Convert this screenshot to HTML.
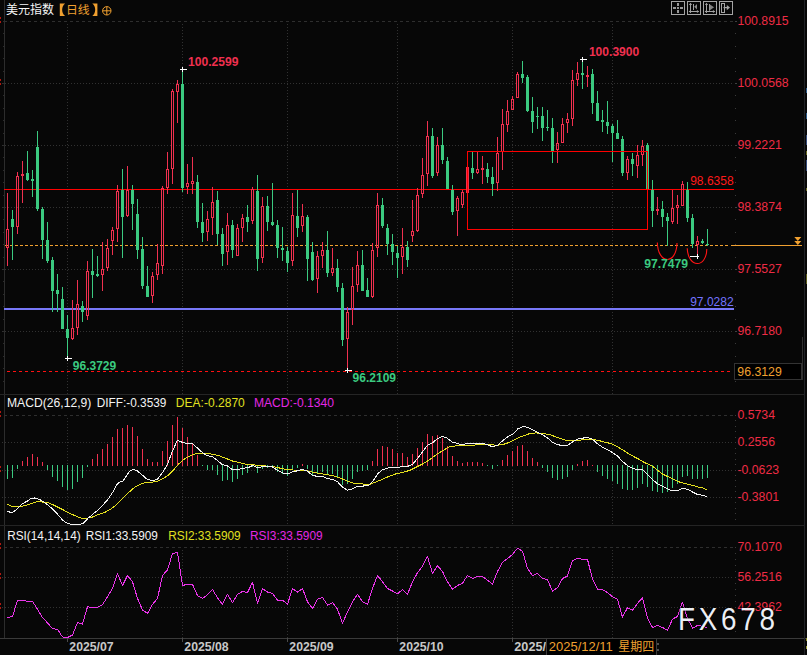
<!DOCTYPE html>
<html><head><meta charset="utf-8"><title>chart</title>
<style>html,body{margin:0;padding:0;background:#070707}body{width:807px;height:655px;overflow:hidden;font-family:"Liberation Sans",sans-serif}svg{display:block}</style>
</head><body>
<svg width="807" height="655" viewBox="0 0 807 655" font-family="'Liberation Sans', sans-serif">
<rect x="0" y="0" width="807" height="655" fill="#070707"/>
<g shape-rendering="crispEdges">
<rect x="4" y="0" width="1" height="638" fill="#2c2c2c"/>
<rect x="0" y="394" width="805" height="1" fill="#252525"/>
<rect x="0" y="525" width="805" height="1" fill="#242424"/>
<rect x="0" y="638" width="807" height="1" fill="#3a3a3a"/>
<rect x="804" y="0" width="1" height="655" fill="#202226"/>
<rect x="802" y="337" width="1" height="43" fill="#303030"/>
<rect x="0" y="17" width="1" height="2" fill="#b01a12"/>
<rect x="0" y="21" width="1" height="2" fill="#b01a12"/>
<rect x="0" y="79" width="1" height="2" fill="#b01a12"/>
<rect x="0" y="83" width="1" height="2" fill="#b01a12"/>
<rect x="0" y="411" width="1" height="2" fill="#b01a12"/>
<rect x="0" y="415" width="1" height="2" fill="#b01a12"/>
<rect x="0" y="466" width="1" height="2" fill="#b01a12"/>
<rect x="0" y="470" width="1" height="2" fill="#b01a12"/>
<rect x="0" y="543" width="1" height="2" fill="#b01a12"/>
<rect x="0" y="547" width="1" height="2" fill="#b01a12"/>
<rect x="0" y="573" width="1" height="2" fill="#b01a12"/>
<rect x="0" y="577" width="1" height="2" fill="#b01a12"/>
<rect x="0" y="603" width="1" height="2" fill="#b01a12"/>
<rect x="0" y="607" width="1" height="2" fill="#b01a12"/>
<rect x="3" y="21" width="1" height="1" fill="#2c2c2c"/>
<rect x="3" y="33" width="1" height="1" fill="#2c2c2c"/>
<rect x="3" y="46" width="1" height="1" fill="#2c2c2c"/>
<rect x="3" y="58" width="1" height="1" fill="#2c2c2c"/>
<rect x="3" y="71" width="1" height="1" fill="#2c2c2c"/>
<rect x="3" y="83" width="1" height="1" fill="#2c2c2c"/>
<rect x="3" y="95" width="1" height="1" fill="#2c2c2c"/>
<rect x="3" y="108" width="1" height="1" fill="#2c2c2c"/>
<rect x="3" y="120" width="1" height="1" fill="#2c2c2c"/>
<rect x="3" y="133" width="1" height="1" fill="#2c2c2c"/>
<rect x="3" y="145" width="1" height="1" fill="#2c2c2c"/>
<rect x="3" y="157" width="1" height="1" fill="#2c2c2c"/>
<rect x="3" y="170" width="1" height="1" fill="#2c2c2c"/>
<rect x="3" y="182" width="1" height="1" fill="#2c2c2c"/>
<rect x="3" y="195" width="1" height="1" fill="#2c2c2c"/>
<rect x="3" y="207" width="1" height="1" fill="#2c2c2c"/>
<rect x="3" y="219" width="1" height="1" fill="#2c2c2c"/>
<rect x="3" y="232" width="1" height="1" fill="#2c2c2c"/>
<rect x="3" y="244" width="1" height="1" fill="#2c2c2c"/>
<rect x="3" y="257" width="1" height="1" fill="#2c2c2c"/>
<rect x="3" y="269" width="1" height="1" fill="#2c2c2c"/>
<rect x="3" y="281" width="1" height="1" fill="#2c2c2c"/>
<rect x="3" y="294" width="1" height="1" fill="#2c2c2c"/>
<rect x="3" y="306" width="1" height="1" fill="#2c2c2c"/>
<rect x="3" y="319" width="1" height="1" fill="#2c2c2c"/>
<rect x="3" y="331" width="1" height="1" fill="#2c2c2c"/>
<rect x="3" y="343" width="1" height="1" fill="#2c2c2c"/>
<rect x="3" y="356" width="1" height="1" fill="#2c2c2c"/>
<rect x="3" y="368" width="1" height="1" fill="#2c2c2c"/>
<rect x="3" y="381" width="1" height="1" fill="#2c2c2c"/>
</g>
<g shape-rendering="crispEdges" stroke-width="1" fill="none">
<path d="M4 21.5H734" stroke="#2e2e2e" stroke-dasharray="3 3"/>
<path d="M2 83.5H734" stroke="#313131" stroke-dasharray="1 2"/>
<path d="M2 145.5H734" stroke="#313131" stroke-dasharray="1 2"/>
<path d="M2 207.5H734" stroke="#313131" stroke-dasharray="1 2"/>
<path d="M2 269.5H734" stroke="#313131" stroke-dasharray="1 2"/>
<path d="M2 331.5H734" stroke="#313131" stroke-dasharray="1 2"/>
<path d="M4 415.5H734" stroke="#2e2e2e" stroke-dasharray="3 3"/>
<path d="M2 442.5H734" stroke="#313131" stroke-dasharray="1 2"/>
<path d="M2 470.5H734" stroke="#313131" stroke-dasharray="1 2"/>
<path d="M2 497.5H734" stroke="#313131" stroke-dasharray="1 2"/>
<path d="M4 547.5H734" stroke="#2e2e2e" stroke-dasharray="3 3"/>
<path d="M2 577.5H734" stroke="#313131" stroke-dasharray="1 2"/>
<path d="M2 607.5H734" stroke="#313131" stroke-dasharray="1 2"/>
<path d="M67.5 24V394M67.5 418V525M67.5 550V638" stroke="#313131" stroke-dasharray="1 2"/>
<rect x="67" y="638" width="1" height="4" fill="#4a4a4a"/>
<path d="M182.5 24V394M182.5 418V525M182.5 550V638" stroke="#313131" stroke-dasharray="1 2"/>
<rect x="182" y="638" width="1" height="4" fill="#4a4a4a"/>
<path d="M287.5 24V394M287.5 418V525M287.5 550V638" stroke="#313131" stroke-dasharray="1 2"/>
<rect x="287" y="638" width="1" height="4" fill="#4a4a4a"/>
<path d="M397.5 24V394M397.5 418V525M397.5 550V638" stroke="#313131" stroke-dasharray="1 2"/>
<rect x="397" y="638" width="1" height="4" fill="#4a4a4a"/>
<path d="M512.5 24V394M512.5 418V525M512.5 550V638" stroke="#313131" stroke-dasharray="1 2"/>
<rect x="512" y="638" width="1" height="4" fill="#4a4a4a"/>
<path d="M612.5 24V394M612.5 418V525M612.5 550V638" stroke="#313131" stroke-dasharray="1 2"/>
<rect x="612" y="638" width="1" height="4" fill="#4a4a4a"/>
<rect x="735" y="21" width="1" height="1" fill="#3a3a3a"/>
<rect x="735" y="33" width="1" height="1" fill="#3a3a3a"/>
<rect x="735" y="46" width="1" height="1" fill="#3a3a3a"/>
<rect x="735" y="58" width="1" height="1" fill="#3a3a3a"/>
<rect x="735" y="71" width="1" height="1" fill="#3a3a3a"/>
<rect x="735" y="83" width="1" height="1" fill="#3a3a3a"/>
<rect x="735" y="95" width="1" height="1" fill="#3a3a3a"/>
<rect x="735" y="108" width="1" height="1" fill="#3a3a3a"/>
<rect x="735" y="120" width="1" height="1" fill="#3a3a3a"/>
<rect x="735" y="133" width="1" height="1" fill="#3a3a3a"/>
<rect x="735" y="145" width="1" height="1" fill="#3a3a3a"/>
<rect x="735" y="157" width="1" height="1" fill="#3a3a3a"/>
<rect x="735" y="170" width="1" height="1" fill="#3a3a3a"/>
<rect x="735" y="182" width="1" height="1" fill="#3a3a3a"/>
<rect x="735" y="195" width="1" height="1" fill="#3a3a3a"/>
<rect x="735" y="207" width="1" height="1" fill="#3a3a3a"/>
<rect x="735" y="219" width="1" height="1" fill="#3a3a3a"/>
<rect x="735" y="232" width="1" height="1" fill="#3a3a3a"/>
<rect x="735" y="244" width="1" height="1" fill="#3a3a3a"/>
<rect x="735" y="257" width="1" height="1" fill="#3a3a3a"/>
<rect x="735" y="269" width="1" height="1" fill="#3a3a3a"/>
<rect x="735" y="281" width="1" height="1" fill="#3a3a3a"/>
<rect x="735" y="294" width="1" height="1" fill="#3a3a3a"/>
<rect x="735" y="306" width="1" height="1" fill="#3a3a3a"/>
<rect x="735" y="319" width="1" height="1" fill="#3a3a3a"/>
<rect x="735" y="331" width="1" height="1" fill="#3a3a3a"/>
<rect x="735" y="343" width="1" height="1" fill="#3a3a3a"/>
<rect x="735" y="356" width="1" height="1" fill="#3a3a3a"/>
<rect x="735" y="368" width="1" height="1" fill="#3a3a3a"/>
<rect x="735" y="381" width="1" height="1" fill="#3a3a3a"/>
<rect x="735" y="415" width="1" height="1" fill="#3a3a3a"/>
<rect x="735" y="420" width="1" height="1" fill="#3a3a3a"/>
<rect x="735" y="426" width="1" height="1" fill="#3a3a3a"/>
<rect x="735" y="431" width="1" height="1" fill="#3a3a3a"/>
<rect x="735" y="437" width="1" height="1" fill="#3a3a3a"/>
<rect x="735" y="442" width="1" height="1" fill="#3a3a3a"/>
<rect x="735" y="448" width="1" height="1" fill="#3a3a3a"/>
<rect x="735" y="453" width="1" height="1" fill="#3a3a3a"/>
<rect x="735" y="459" width="1" height="1" fill="#3a3a3a"/>
<rect x="735" y="464" width="1" height="1" fill="#3a3a3a"/>
<rect x="735" y="470" width="1" height="1" fill="#3a3a3a"/>
<rect x="735" y="475" width="1" height="1" fill="#3a3a3a"/>
<rect x="735" y="480" width="1" height="1" fill="#3a3a3a"/>
<rect x="735" y="486" width="1" height="1" fill="#3a3a3a"/>
<rect x="735" y="491" width="1" height="1" fill="#3a3a3a"/>
<rect x="735" y="497" width="1" height="1" fill="#3a3a3a"/>
<rect x="735" y="502" width="1" height="1" fill="#3a3a3a"/>
<rect x="735" y="508" width="1" height="1" fill="#3a3a3a"/>
<rect x="735" y="513" width="1" height="1" fill="#3a3a3a"/>
<rect x="735" y="519" width="1" height="1" fill="#3a3a3a"/>
<rect x="735" y="547" width="1" height="1" fill="#3a3a3a"/>
<rect x="735" y="553" width="1" height="1" fill="#3a3a3a"/>
<rect x="735" y="559" width="1" height="1" fill="#3a3a3a"/>
<rect x="735" y="565" width="1" height="1" fill="#3a3a3a"/>
<rect x="735" y="571" width="1" height="1" fill="#3a3a3a"/>
<rect x="735" y="577" width="1" height="1" fill="#3a3a3a"/>
<rect x="735" y="583" width="1" height="1" fill="#3a3a3a"/>
<rect x="735" y="589" width="1" height="1" fill="#3a3a3a"/>
<rect x="735" y="595" width="1" height="1" fill="#3a3a3a"/>
<rect x="735" y="601" width="1" height="1" fill="#3a3a3a"/>
<rect x="735" y="607" width="1" height="1" fill="#3a3a3a"/>
<rect x="735" y="613" width="1" height="1" fill="#3a3a3a"/>
<rect x="735" y="619" width="1" height="1" fill="#3a3a3a"/>
<rect x="735" y="625" width="1" height="1" fill="#3a3a3a"/>
<rect x="735" y="631" width="1" height="1" fill="#3a3a3a"/>
<rect x="735" y="21" width="2" height="1" fill="#404040"/>
<rect x="735" y="83" width="2" height="1" fill="#404040"/>
<rect x="735" y="145" width="2" height="1" fill="#404040"/>
<rect x="735" y="207" width="2" height="1" fill="#404040"/>
<rect x="735" y="269" width="2" height="1" fill="#404040"/>
<rect x="735" y="331" width="2" height="1" fill="#404040"/>
</g>
<g shape-rendering="crispEdges">
<rect x="4" y="189" width="730" height="1" fill="#ff0000"/>
<rect x="4" y="308" width="730" height="2" fill="#7878f8"/>
<path d="M5 245.5H729" stroke="#f0a030" stroke-width="1" stroke-dasharray="3 2" fill="none"/>
<rect x="731" y="245" width="71" height="1" fill="#f0a030"/>
<path d="M7 371.5H733" stroke="#ff1010" stroke-width="1" stroke-dasharray="3 3" fill="none"/>
</g>
<g shape-rendering="crispEdges">
<rect x="7" y="193" width="1" height="36" fill="#f0304f"/>
<rect x="7" y="248" width="1" height="18" fill="#f0304f"/>
<path d="M6 229h3v19h-3zM7 230v17h1v-17z" fill="#f0304f" fill-rule="evenodd"/>
<rect x="12" y="210" width="1" height="9" fill="#3bca80"/>
<rect x="12" y="227" width="1" height="33" fill="#3bca80"/>
<rect x="11" y="219" width="3" height="8" fill="#3bca80"/>
<rect x="17" y="172" width="1" height="4" fill="#f0304f"/>
<rect x="17" y="227" width="1" height="7" fill="#f0304f"/>
<path d="M16 176h3v51h-3zM17 177v49h1v-49z" fill="#f0304f" fill-rule="evenodd"/>
<rect x="22" y="161" width="1" height="13" fill="#f0304f"/>
<rect x="22" y="176" width="1" height="27" fill="#f0304f"/>
<rect x="21" y="174" width="3" height="2" fill="#f0304f"/>
<rect x="27" y="151" width="1" height="22" fill="#3bca80"/>
<rect x="27" y="180" width="1" height="1" fill="#3bca80"/>
<rect x="26" y="173" width="3" height="7" fill="#3bca80"/>
<rect x="32" y="170" width="1" height="9" fill="#3bca80"/>
<rect x="32" y="181" width="1" height="16" fill="#3bca80"/>
<rect x="31" y="179" width="3" height="2" fill="#3bca80"/>
<rect x="37" y="131" width="1" height="16" fill="#3bca80"/>
<rect x="37" y="209" width="1" height="2" fill="#3bca80"/>
<rect x="36" y="147" width="3" height="62" fill="#3bca80"/>
<rect x="42" y="207" width="1" height="2" fill="#3bca80"/>
<rect x="42" y="240" width="1" height="19" fill="#3bca80"/>
<rect x="41" y="209" width="3" height="31" fill="#3bca80"/>
<rect x="47" y="222" width="1" height="18" fill="#3bca80"/>
<rect x="47" y="261" width="1" height="2" fill="#3bca80"/>
<rect x="46" y="240" width="3" height="21" fill="#3bca80"/>
<rect x="52" y="257" width="1" height="3" fill="#3bca80"/>
<rect x="52" y="291" width="1" height="21" fill="#3bca80"/>
<rect x="51" y="260" width="3" height="31" fill="#3bca80"/>
<rect x="57" y="274" width="1" height="16" fill="#3bca80"/>
<rect x="57" y="294" width="1" height="18" fill="#3bca80"/>
<rect x="56" y="290" width="3" height="4" fill="#3bca80"/>
<rect x="62" y="287" width="1" height="12" fill="#3bca80"/>
<rect x="61" y="299" width="3" height="30" fill="#3bca80"/>
<rect x="67" y="315" width="1" height="14" fill="#3bca80"/>
<rect x="67" y="338" width="1" height="20" fill="#3bca80"/>
<rect x="66" y="329" width="3" height="9" fill="#3bca80"/>
<rect x="72" y="300" width="1" height="28" fill="#f0304f"/>
<rect x="72" y="339" width="1" height="1" fill="#f0304f"/>
<path d="M71 328h3v11h-3zM72 329v9h1v-9z" fill="#f0304f" fill-rule="evenodd"/>
<rect x="77" y="280" width="1" height="24" fill="#f0304f"/>
<rect x="77" y="328" width="1" height="7" fill="#f0304f"/>
<path d="M76 304h3v24h-3zM77 305v22h1v-22z" fill="#f0304f" fill-rule="evenodd"/>
<rect x="82" y="301" width="1" height="5" fill="#3bca80"/>
<rect x="82" y="312" width="1" height="10" fill="#3bca80"/>
<rect x="81" y="306" width="3" height="6" fill="#3bca80"/>
<rect x="87" y="261" width="1" height="10" fill="#f0304f"/>
<rect x="87" y="316" width="1" height="4" fill="#f0304f"/>
<path d="M86 271h3v45h-3zM87 272v43h1v-43z" fill="#f0304f" fill-rule="evenodd"/>
<rect x="92" y="249" width="1" height="22" fill="#3bca80"/>
<rect x="92" y="275" width="1" height="23" fill="#3bca80"/>
<rect x="91" y="271" width="3" height="4" fill="#3bca80"/>
<rect x="97" y="256" width="1" height="18" fill="#3bca80"/>
<rect x="97" y="276" width="1" height="1" fill="#3bca80"/>
<rect x="96" y="274" width="3" height="2" fill="#3bca80"/>
<rect x="102" y="242" width="1" height="27" fill="#f0304f"/>
<rect x="102" y="275" width="1" height="16" fill="#f0304f"/>
<path d="M101 269h3v6h-3zM102 270v4h1v-4z" fill="#f0304f" fill-rule="evenodd"/>
<rect x="107" y="239" width="1" height="9" fill="#f0304f"/>
<rect x="107" y="268" width="1" height="3" fill="#f0304f"/>
<path d="M106 248h3v20h-3zM107 249v18h1v-18z" fill="#f0304f" fill-rule="evenodd"/>
<rect x="112" y="227" width="1" height="3" fill="#f0304f"/>
<rect x="112" y="241" width="1" height="14" fill="#f0304f"/>
<path d="M111 230h3v11h-3zM112 231v9h1v-9z" fill="#f0304f" fill-rule="evenodd"/>
<rect x="117" y="185" width="1" height="6" fill="#f0304f"/>
<rect x="117" y="229" width="1" height="13" fill="#f0304f"/>
<path d="M116 191h3v38h-3zM117 192v36h1v-36z" fill="#f0304f" fill-rule="evenodd"/>
<rect x="122" y="169" width="1" height="21" fill="#3bca80"/>
<rect x="122" y="217" width="1" height="41" fill="#3bca80"/>
<rect x="121" y="190" width="3" height="27" fill="#3bca80"/>
<rect x="127" y="166" width="1" height="24" fill="#f0304f"/>
<rect x="127" y="216" width="1" height="1" fill="#f0304f"/>
<path d="M126 190h3v26h-3zM127 191v24h1v-24z" fill="#f0304f" fill-rule="evenodd"/>
<rect x="132" y="185" width="1" height="5" fill="#3bca80"/>
<rect x="132" y="204" width="1" height="26" fill="#3bca80"/>
<rect x="131" y="190" width="3" height="14" fill="#3bca80"/>
<rect x="137" y="199" width="1" height="15" fill="#3bca80"/>
<rect x="137" y="250" width="1" height="9" fill="#3bca80"/>
<rect x="136" y="214" width="3" height="36" fill="#3bca80"/>
<rect x="142" y="237" width="1" height="12" fill="#3bca80"/>
<rect x="142" y="286" width="1" height="3" fill="#3bca80"/>
<rect x="141" y="249" width="3" height="37" fill="#3bca80"/>
<rect x="147" y="266" width="1" height="20" fill="#3bca80"/>
<rect x="146" y="286" width="3" height="11" fill="#3bca80"/>
<rect x="152" y="272" width="1" height="4" fill="#f0304f"/>
<rect x="152" y="296" width="1" height="7" fill="#f0304f"/>
<path d="M151 276h3v20h-3zM152 277v18h1v-18z" fill="#f0304f" fill-rule="evenodd"/>
<rect x="157" y="244" width="1" height="19" fill="#f0304f"/>
<rect x="157" y="275" width="1" height="5" fill="#f0304f"/>
<path d="M156 263h3v12h-3zM157 264v10h1v-10z" fill="#f0304f" fill-rule="evenodd"/>
<rect x="162" y="186" width="1" height="2" fill="#f0304f"/>
<rect x="162" y="266" width="1" height="8" fill="#f0304f"/>
<path d="M161 188h3v78h-3zM162 189v76h1v-76z" fill="#f0304f" fill-rule="evenodd"/>
<rect x="167" y="152" width="1" height="17" fill="#f0304f"/>
<rect x="167" y="188" width="1" height="6" fill="#f0304f"/>
<path d="M166 169h3v19h-3zM167 170v17h1v-17z" fill="#f0304f" fill-rule="evenodd"/>
<rect x="172" y="89" width="1" height="2" fill="#f0304f"/>
<rect x="172" y="169" width="1" height="15" fill="#f0304f"/>
<path d="M171 91h3v78h-3zM172 92v76h1v-76z" fill="#f0304f" fill-rule="evenodd"/>
<rect x="177" y="80" width="1" height="4" fill="#f0304f"/>
<rect x="177" y="92" width="1" height="31" fill="#f0304f"/>
<path d="M176 84h3v8h-3zM177 85v6h1v-6z" fill="#f0304f" fill-rule="evenodd"/>
<rect x="182" y="70" width="1" height="14" fill="#3bca80"/>
<rect x="182" y="188" width="1" height="4" fill="#3bca80"/>
<rect x="181" y="84" width="3" height="104" fill="#3bca80"/>
<rect x="187" y="164" width="1" height="19" fill="#f0304f"/>
<rect x="187" y="187" width="1" height="7" fill="#f0304f"/>
<path d="M186 183h3v4h-3zM187 184v2h1v-2z" fill="#f0304f" fill-rule="evenodd"/>
<rect x="192" y="157" width="1" height="24" fill="#f0304f"/>
<rect x="192" y="184" width="1" height="10" fill="#f0304f"/>
<path d="M191 181h3v3h-3zM192 182v1h1v-1z" fill="#f0304f" fill-rule="evenodd"/>
<rect x="197" y="175" width="1" height="7" fill="#3bca80"/>
<rect x="197" y="222" width="1" height="6" fill="#3bca80"/>
<rect x="196" y="182" width="3" height="40" fill="#3bca80"/>
<rect x="202" y="203" width="1" height="19" fill="#3bca80"/>
<rect x="202" y="233" width="1" height="9" fill="#3bca80"/>
<rect x="201" y="222" width="3" height="11" fill="#3bca80"/>
<rect x="207" y="211" width="1" height="8" fill="#f0304f"/>
<rect x="207" y="232" width="1" height="9" fill="#f0304f"/>
<path d="M206 219h3v13h-3zM207 220v11h1v-11z" fill="#f0304f" fill-rule="evenodd"/>
<rect x="212" y="187" width="1" height="15" fill="#f0304f"/>
<rect x="212" y="218" width="1" height="17" fill="#f0304f"/>
<path d="M211 202h3v16h-3zM212 203v14h1v-14z" fill="#f0304f" fill-rule="evenodd"/>
<rect x="217" y="191" width="1" height="9" fill="#3bca80"/>
<rect x="217" y="234" width="1" height="11" fill="#3bca80"/>
<rect x="216" y="200" width="3" height="34" fill="#3bca80"/>
<rect x="222" y="228" width="1" height="6" fill="#3bca80"/>
<rect x="222" y="254" width="1" height="12" fill="#3bca80"/>
<rect x="221" y="234" width="3" height="20" fill="#3bca80"/>
<rect x="227" y="213" width="1" height="12" fill="#f0304f"/>
<rect x="227" y="252" width="1" height="13" fill="#f0304f"/>
<path d="M226 225h3v27h-3zM227 226v25h1v-25z" fill="#f0304f" fill-rule="evenodd"/>
<rect x="232" y="220" width="1" height="5" fill="#3bca80"/>
<rect x="232" y="250" width="1" height="8" fill="#3bca80"/>
<rect x="231" y="225" width="3" height="25" fill="#3bca80"/>
<rect x="237" y="224" width="1" height="4" fill="#f0304f"/>
<path d="M236 228h3v28h-3zM237 229v26h1v-26z" fill="#f0304f" fill-rule="evenodd"/>
<rect x="242" y="214" width="1" height="4" fill="#f0304f"/>
<rect x="242" y="228" width="1" height="14" fill="#f0304f"/>
<path d="M241 218h3v10h-3zM242 219v8h1v-8z" fill="#f0304f" fill-rule="evenodd"/>
<rect x="247" y="205" width="1" height="12" fill="#3bca80"/>
<rect x="247" y="222" width="1" height="10" fill="#3bca80"/>
<rect x="246" y="217" width="3" height="5" fill="#3bca80"/>
<rect x="252" y="187" width="1" height="2" fill="#f0304f"/>
<rect x="252" y="221" width="1" height="3" fill="#f0304f"/>
<path d="M251 189h3v32h-3zM252 190v30h1v-30z" fill="#f0304f" fill-rule="evenodd"/>
<rect x="257" y="175" width="1" height="16" fill="#3bca80"/>
<rect x="257" y="259" width="1" height="12" fill="#3bca80"/>
<rect x="256" y="191" width="3" height="68" fill="#3bca80"/>
<rect x="262" y="197" width="1" height="9" fill="#f0304f"/>
<rect x="262" y="258" width="1" height="5" fill="#f0304f"/>
<path d="M261 206h3v52h-3zM262 207v50h1v-50z" fill="#f0304f" fill-rule="evenodd"/>
<rect x="267" y="196" width="1" height="10" fill="#3bca80"/>
<rect x="267" y="222" width="1" height="9" fill="#3bca80"/>
<rect x="266" y="206" width="3" height="16" fill="#3bca80"/>
<rect x="272" y="183" width="1" height="39" fill="#3bca80"/>
<rect x="272" y="225" width="1" height="1" fill="#3bca80"/>
<rect x="271" y="222" width="3" height="3" fill="#3bca80"/>
<rect x="277" y="220" width="1" height="5" fill="#3bca80"/>
<rect x="277" y="248" width="1" height="10" fill="#3bca80"/>
<rect x="276" y="225" width="3" height="23" fill="#3bca80"/>
<rect x="282" y="227" width="1" height="21" fill="#3bca80"/>
<rect x="282" y="250" width="1" height="11" fill="#3bca80"/>
<rect x="281" y="248" width="3" height="2" fill="#3bca80"/>
<rect x="287" y="247" width="1" height="4" fill="#3bca80"/>
<rect x="287" y="263" width="1" height="9" fill="#3bca80"/>
<rect x="286" y="251" width="3" height="12" fill="#3bca80"/>
<rect x="292" y="193" width="1" height="22" fill="#f0304f"/>
<rect x="292" y="261" width="1" height="5" fill="#f0304f"/>
<path d="M291 215h3v46h-3zM292 216v44h1v-44z" fill="#f0304f" fill-rule="evenodd"/>
<rect x="297" y="190" width="1" height="26" fill="#3bca80"/>
<rect x="297" y="228" width="1" height="9" fill="#3bca80"/>
<rect x="296" y="216" width="3" height="12" fill="#3bca80"/>
<rect x="302" y="204" width="1" height="12" fill="#f0304f"/>
<rect x="302" y="226" width="1" height="6" fill="#f0304f"/>
<path d="M301 216h3v10h-3zM302 217v8h1v-8z" fill="#f0304f" fill-rule="evenodd"/>
<rect x="307" y="215" width="1" height="2" fill="#3bca80"/>
<rect x="307" y="259" width="1" height="22" fill="#3bca80"/>
<rect x="306" y="217" width="3" height="42" fill="#3bca80"/>
<rect x="312" y="242" width="1" height="10" fill="#3bca80"/>
<rect x="312" y="280" width="1" height="1" fill="#3bca80"/>
<rect x="311" y="252" width="3" height="28" fill="#3bca80"/>
<rect x="317" y="251" width="1" height="5" fill="#f0304f"/>
<rect x="317" y="279" width="1" height="14" fill="#f0304f"/>
<path d="M316 256h3v23h-3zM317 257v21h1v-21z" fill="#f0304f" fill-rule="evenodd"/>
<rect x="322" y="242" width="1" height="8" fill="#f0304f"/>
<rect x="322" y="256" width="1" height="12" fill="#f0304f"/>
<path d="M321 250h3v6h-3zM322 251v4h1v-4z" fill="#f0304f" fill-rule="evenodd"/>
<rect x="327" y="231" width="1" height="19" fill="#3bca80"/>
<rect x="327" y="273" width="1" height="4" fill="#3bca80"/>
<rect x="326" y="250" width="3" height="23" fill="#3bca80"/>
<rect x="332" y="248" width="1" height="20" fill="#f0304f"/>
<rect x="332" y="273" width="1" height="3" fill="#f0304f"/>
<path d="M331 268h3v5h-3zM332 269v3h1v-3z" fill="#f0304f" fill-rule="evenodd"/>
<rect x="337" y="259" width="1" height="9" fill="#3bca80"/>
<rect x="337" y="287" width="1" height="5" fill="#3bca80"/>
<rect x="336" y="268" width="3" height="19" fill="#3bca80"/>
<rect x="342" y="283" width="1" height="5" fill="#3bca80"/>
<rect x="342" y="340" width="1" height="6" fill="#3bca80"/>
<rect x="341" y="288" width="3" height="52" fill="#3bca80"/>
<rect x="347" y="307" width="1" height="5" fill="#f0304f"/>
<rect x="347" y="339" width="1" height="31" fill="#f0304f"/>
<path d="M346 312h3v27h-3zM347 313v25h1v-25z" fill="#f0304f" fill-rule="evenodd"/>
<rect x="352" y="267" width="1" height="19" fill="#f0304f"/>
<rect x="352" y="310" width="1" height="15" fill="#f0304f"/>
<path d="M351 286h3v24h-3zM352 287v22h1v-22z" fill="#f0304f" fill-rule="evenodd"/>
<rect x="357" y="251" width="1" height="14" fill="#f0304f"/>
<rect x="357" y="285" width="1" height="7" fill="#f0304f"/>
<path d="M356 265h3v20h-3zM357 266v18h1v-18z" fill="#f0304f" fill-rule="evenodd"/>
<rect x="362" y="250" width="1" height="15" fill="#3bca80"/>
<rect x="361" y="265" width="3" height="26" fill="#3bca80"/>
<rect x="367" y="278" width="1" height="12" fill="#3bca80"/>
<rect x="366" y="290" width="3" height="7" fill="#3bca80"/>
<rect x="372" y="243" width="1" height="7" fill="#f0304f"/>
<rect x="372" y="297" width="1" height="1" fill="#f0304f"/>
<path d="M371 250h3v47h-3zM372 251v45h1v-45z" fill="#f0304f" fill-rule="evenodd"/>
<rect x="377" y="193" width="1" height="12" fill="#f0304f"/>
<rect x="377" y="248" width="1" height="9" fill="#f0304f"/>
<path d="M376 205h3v43h-3zM377 206v41h1v-41z" fill="#f0304f" fill-rule="evenodd"/>
<rect x="382" y="198" width="1" height="7" fill="#3bca80"/>
<rect x="382" y="226" width="1" height="2" fill="#3bca80"/>
<rect x="381" y="205" width="3" height="21" fill="#3bca80"/>
<rect x="387" y="224" width="1" height="4" fill="#3bca80"/>
<rect x="387" y="244" width="1" height="11" fill="#3bca80"/>
<rect x="386" y="228" width="3" height="16" fill="#3bca80"/>
<rect x="392" y="234" width="1" height="10" fill="#3bca80"/>
<rect x="392" y="252" width="1" height="13" fill="#3bca80"/>
<rect x="391" y="244" width="3" height="8" fill="#3bca80"/>
<rect x="397" y="246" width="1" height="7" fill="#3bca80"/>
<rect x="397" y="258" width="1" height="20" fill="#3bca80"/>
<rect x="396" y="253" width="3" height="5" fill="#3bca80"/>
<rect x="402" y="228" width="1" height="19" fill="#f0304f"/>
<rect x="402" y="257" width="1" height="17" fill="#f0304f"/>
<path d="M401 247h3v10h-3zM402 248v8h1v-8z" fill="#f0304f" fill-rule="evenodd"/>
<rect x="407" y="241" width="1" height="6" fill="#3bca80"/>
<rect x="407" y="260" width="1" height="7" fill="#3bca80"/>
<rect x="406" y="247" width="3" height="13" fill="#3bca80"/>
<rect x="412" y="200" width="1" height="31" fill="#f0304f"/>
<rect x="412" y="236" width="1" height="6" fill="#f0304f"/>
<path d="M411 231h3v5h-3zM412 232v3h1v-3z" fill="#f0304f" fill-rule="evenodd"/>
<rect x="417" y="188" width="1" height="7" fill="#f0304f"/>
<rect x="417" y="231" width="1" height="1" fill="#f0304f"/>
<path d="M416 195h3v36h-3zM417 196v34h1v-34z" fill="#f0304f" fill-rule="evenodd"/>
<rect x="422" y="158" width="1" height="17" fill="#f0304f"/>
<rect x="422" y="194" width="1" height="4" fill="#f0304f"/>
<path d="M421 175h3v19h-3zM422 176v17h1v-17z" fill="#f0304f" fill-rule="evenodd"/>
<rect x="427" y="121" width="1" height="15" fill="#f0304f"/>
<rect x="427" y="174" width="1" height="12" fill="#f0304f"/>
<path d="M426 136h3v38h-3zM427 137v36h1v-36z" fill="#f0304f" fill-rule="evenodd"/>
<rect x="432" y="128" width="1" height="8" fill="#3bca80"/>
<rect x="432" y="176" width="1" height="2" fill="#3bca80"/>
<rect x="431" y="136" width="3" height="40" fill="#3bca80"/>
<rect x="437" y="137" width="1" height="8" fill="#f0304f"/>
<rect x="437" y="173" width="1" height="3" fill="#f0304f"/>
<path d="M436 145h3v28h-3zM437 146v26h1v-26z" fill="#f0304f" fill-rule="evenodd"/>
<rect x="442" y="128" width="1" height="17" fill="#3bca80"/>
<rect x="442" y="160" width="1" height="4" fill="#3bca80"/>
<rect x="441" y="145" width="3" height="15" fill="#3bca80"/>
<rect x="447" y="157" width="1" height="4" fill="#3bca80"/>
<rect x="446" y="161" width="3" height="28" fill="#3bca80"/>
<rect x="452" y="185" width="1" height="5" fill="#3bca80"/>
<rect x="452" y="212" width="1" height="3" fill="#3bca80"/>
<rect x="451" y="190" width="3" height="22" fill="#3bca80"/>
<rect x="457" y="196" width="1" height="2" fill="#f0304f"/>
<rect x="457" y="211" width="1" height="25" fill="#f0304f"/>
<path d="M456 198h3v13h-3zM457 199v11h1v-11z" fill="#f0304f" fill-rule="evenodd"/>
<rect x="462" y="190" width="1" height="2" fill="#f0304f"/>
<rect x="462" y="205" width="1" height="3" fill="#f0304f"/>
<path d="M461 192h3v13h-3zM462 193v11h1v-11z" fill="#f0304f" fill-rule="evenodd"/>
<rect x="466" y="167" width="3" height="26" fill="#f0304f"/>
<rect x="472" y="152" width="1" height="16" fill="#3bca80"/>
<rect x="472" y="173" width="1" height="6" fill="#3bca80"/>
<rect x="471" y="168" width="3" height="5" fill="#3bca80"/>
<rect x="477" y="152" width="1" height="17" fill="#f0304f"/>
<rect x="477" y="173" width="1" height="1" fill="#f0304f"/>
<path d="M476 169h3v4h-3zM477 170v2h1v-2z" fill="#f0304f" fill-rule="evenodd"/>
<rect x="482" y="156" width="1" height="12" fill="#f0304f"/>
<rect x="482" y="170" width="1" height="14" fill="#f0304f"/>
<rect x="481" y="168" width="3" height="2" fill="#f0304f"/>
<rect x="487" y="163" width="1" height="6" fill="#3bca80"/>
<rect x="487" y="177" width="1" height="6" fill="#3bca80"/>
<rect x="486" y="169" width="3" height="8" fill="#3bca80"/>
<rect x="492" y="167" width="1" height="10" fill="#3bca80"/>
<rect x="492" y="184" width="1" height="12" fill="#3bca80"/>
<rect x="491" y="177" width="3" height="7" fill="#3bca80"/>
<rect x="497" y="137" width="1" height="16" fill="#f0304f"/>
<rect x="497" y="183" width="1" height="8" fill="#f0304f"/>
<path d="M496 153h3v30h-3zM497 154v28h1v-28z" fill="#f0304f" fill-rule="evenodd"/>
<rect x="502" y="109" width="1" height="15" fill="#f0304f"/>
<rect x="502" y="152" width="1" height="18" fill="#f0304f"/>
<path d="M501 124h3v28h-3zM502 125v26h1v-26z" fill="#f0304f" fill-rule="evenodd"/>
<rect x="507" y="100" width="1" height="11" fill="#f0304f"/>
<rect x="507" y="125" width="1" height="7" fill="#f0304f"/>
<path d="M506 111h3v14h-3zM507 112v12h1v-12z" fill="#f0304f" fill-rule="evenodd"/>
<rect x="512" y="96" width="1" height="3" fill="#f0304f"/>
<path d="M511 99h3v11h-3zM512 100v9h1v-9z" fill="#f0304f" fill-rule="evenodd"/>
<rect x="517" y="72" width="1" height="2" fill="#f0304f"/>
<path d="M516 74h3v24h-3zM517 75v22h1v-22z" fill="#f0304f" fill-rule="evenodd"/>
<rect x="522" y="61" width="1" height="13" fill="#3bca80"/>
<rect x="522" y="78" width="1" height="5" fill="#3bca80"/>
<rect x="521" y="74" width="3" height="4" fill="#3bca80"/>
<rect x="527" y="75" width="1" height="2" fill="#3bca80"/>
<rect x="527" y="111" width="1" height="1" fill="#3bca80"/>
<rect x="526" y="77" width="3" height="34" fill="#3bca80"/>
<rect x="532" y="97" width="1" height="14" fill="#3bca80"/>
<rect x="532" y="122" width="1" height="11" fill="#3bca80"/>
<rect x="531" y="111" width="3" height="11" fill="#3bca80"/>
<rect x="537" y="107" width="1" height="9" fill="#3bca80"/>
<rect x="537" y="117" width="1" height="12" fill="#3bca80"/>
<rect x="536" y="116" width="3" height="1" fill="#3bca80"/>
<rect x="542" y="107" width="1" height="9" fill="#3bca80"/>
<rect x="542" y="128" width="1" height="13" fill="#3bca80"/>
<rect x="541" y="116" width="3" height="12" fill="#3bca80"/>
<rect x="547" y="110" width="1" height="17" fill="#3bca80"/>
<rect x="547" y="128" width="1" height="3" fill="#3bca80"/>
<rect x="546" y="127" width="3" height="1" fill="#3bca80"/>
<rect x="552" y="118" width="1" height="10" fill="#3bca80"/>
<rect x="552" y="151" width="1" height="12" fill="#3bca80"/>
<rect x="551" y="128" width="3" height="23" fill="#3bca80"/>
<rect x="557" y="132" width="1" height="11" fill="#f0304f"/>
<rect x="557" y="150" width="1" height="13" fill="#f0304f"/>
<path d="M556 143h3v7h-3zM557 144v5h1v-5z" fill="#f0304f" fill-rule="evenodd"/>
<rect x="562" y="118" width="1" height="6" fill="#f0304f"/>
<path d="M561 124h3v19h-3zM562 125v17h1v-17z" fill="#f0304f" fill-rule="evenodd"/>
<rect x="567" y="113" width="1" height="6" fill="#f0304f"/>
<rect x="567" y="123" width="1" height="10" fill="#f0304f"/>
<path d="M566 119h3v4h-3zM567 120v2h1v-2z" fill="#f0304f" fill-rule="evenodd"/>
<rect x="572" y="70" width="1" height="10" fill="#f0304f"/>
<rect x="572" y="119" width="1" height="7" fill="#f0304f"/>
<path d="M571 80h3v39h-3zM572 81v37h1v-37z" fill="#f0304f" fill-rule="evenodd"/>
<rect x="577" y="62" width="1" height="11" fill="#f0304f"/>
<rect x="577" y="80" width="1" height="6" fill="#f0304f"/>
<path d="M576 73h3v7h-3zM577 74v5h1v-5z" fill="#f0304f" fill-rule="evenodd"/>
<rect x="582" y="60" width="1" height="13" fill="#3bca80"/>
<rect x="582" y="75" width="1" height="14" fill="#3bca80"/>
<rect x="581" y="73" width="3" height="2" fill="#3bca80"/>
<rect x="587" y="66" width="1" height="9" fill="#f0304f"/>
<rect x="587" y="77" width="1" height="10" fill="#f0304f"/>
<rect x="586" y="75" width="3" height="2" fill="#f0304f"/>
<rect x="592" y="69" width="1" height="5" fill="#3bca80"/>
<rect x="592" y="103" width="1" height="11" fill="#3bca80"/>
<rect x="591" y="74" width="3" height="29" fill="#3bca80"/>
<rect x="597" y="91" width="1" height="12" fill="#3bca80"/>
<rect x="596" y="103" width="3" height="18" fill="#3bca80"/>
<rect x="602" y="110" width="1" height="10" fill="#3bca80"/>
<rect x="602" y="122" width="1" height="10" fill="#3bca80"/>
<rect x="601" y="120" width="3" height="2" fill="#3bca80"/>
<rect x="607" y="101" width="1" height="21" fill="#3bca80"/>
<rect x="607" y="126" width="1" height="8" fill="#3bca80"/>
<rect x="606" y="122" width="3" height="4" fill="#3bca80"/>
<rect x="612" y="124" width="1" height="2" fill="#3bca80"/>
<rect x="612" y="133" width="1" height="29" fill="#3bca80"/>
<rect x="611" y="126" width="3" height="7" fill="#3bca80"/>
<rect x="617" y="120" width="1" height="13" fill="#3bca80"/>
<rect x="616" y="133" width="3" height="6" fill="#3bca80"/>
<rect x="622" y="136" width="1" height="3" fill="#3bca80"/>
<rect x="622" y="173" width="1" height="3" fill="#3bca80"/>
<rect x="621" y="139" width="3" height="34" fill="#3bca80"/>
<rect x="627" y="156" width="1" height="3" fill="#f0304f"/>
<rect x="627" y="173" width="1" height="7" fill="#f0304f"/>
<path d="M626 159h3v14h-3zM627 160v12h1v-12z" fill="#f0304f" fill-rule="evenodd"/>
<rect x="632" y="153" width="1" height="6" fill="#3bca80"/>
<rect x="632" y="164" width="1" height="12" fill="#3bca80"/>
<rect x="631" y="159" width="3" height="5" fill="#3bca80"/>
<rect x="637" y="145" width="1" height="10" fill="#f0304f"/>
<rect x="637" y="166" width="1" height="12" fill="#f0304f"/>
<path d="M636 155h3v11h-3zM637 156v9h1v-9z" fill="#f0304f" fill-rule="evenodd"/>
<rect x="642" y="140" width="1" height="6" fill="#f0304f"/>
<rect x="642" y="155" width="1" height="11" fill="#f0304f"/>
<path d="M641 146h3v9h-3zM642 147v7h1v-7z" fill="#f0304f" fill-rule="evenodd"/>
<rect x="647" y="143" width="1" height="2" fill="#3bca80"/>
<rect x="646" y="145" width="3" height="44" fill="#3bca80"/>
<rect x="652" y="180" width="1" height="10" fill="#3bca80"/>
<rect x="652" y="211" width="1" height="16" fill="#3bca80"/>
<rect x="651" y="190" width="3" height="21" fill="#3bca80"/>
<rect x="657" y="197" width="1" height="12" fill="#f0304f"/>
<rect x="657" y="211" width="1" height="4" fill="#f0304f"/>
<rect x="656" y="209" width="3" height="2" fill="#f0304f"/>
<rect x="662" y="201" width="1" height="8" fill="#3bca80"/>
<rect x="662" y="217" width="1" height="10" fill="#3bca80"/>
<rect x="661" y="209" width="3" height="8" fill="#3bca80"/>
<rect x="667" y="213" width="1" height="4" fill="#3bca80"/>
<rect x="667" y="221" width="1" height="25" fill="#3bca80"/>
<rect x="666" y="217" width="3" height="4" fill="#3bca80"/>
<rect x="672" y="190" width="1" height="18" fill="#f0304f"/>
<rect x="672" y="222" width="1" height="2" fill="#f0304f"/>
<path d="M671 208h3v14h-3zM672 209v12h1v-12z" fill="#f0304f" fill-rule="evenodd"/>
<rect x="677" y="195" width="1" height="10" fill="#f0304f"/>
<rect x="677" y="208" width="1" height="16" fill="#f0304f"/>
<path d="M676 205h3v3h-3zM677 206v1h1v-1z" fill="#f0304f" fill-rule="evenodd"/>
<rect x="682" y="181" width="1" height="3" fill="#f0304f"/>
<path d="M681 184h3v22h-3zM682 185v20h1v-20z" fill="#f0304f" fill-rule="evenodd"/>
<rect x="687" y="182" width="1" height="8" fill="#3bca80"/>
<rect x="687" y="218" width="1" height="4" fill="#3bca80"/>
<rect x="686" y="190" width="3" height="28" fill="#3bca80"/>
<rect x="692" y="214" width="1" height="4" fill="#3bca80"/>
<rect x="692" y="244" width="1" height="4" fill="#3bca80"/>
<rect x="691" y="218" width="3" height="26" fill="#3bca80"/>
<rect x="697" y="236" width="1" height="5" fill="#f0304f"/>
<rect x="697" y="245" width="1" height="11" fill="#f0304f"/>
<path d="M696 241h3v4h-3zM697 242v2h1v-2z" fill="#f0304f" fill-rule="evenodd"/>
<rect x="702" y="239" width="1" height="2" fill="#3bca80"/>
<rect x="702" y="243" width="1" height="1" fill="#3bca80"/>
<rect x="701" y="241" width="3" height="2" fill="#3bca80"/>
<rect x="707" y="229" width="1" height="15" fill="#3bca80"/>
<rect x="707" y="245" width="1" height="1" fill="#3bca80"/>
<rect x="706" y="244" width="3" height="1" fill="#3bca80"/>
</g>
<rect x="467.5" y="151.5" width="180" height="78" fill="none" stroke="#ff0000" stroke-width="1" shape-rendering="crispEdges"/>
<path d="M657.3 242.4C658 265 676.5 265 677 243" fill="none" stroke="#ff1515" stroke-width="1.1"/>
<path d="M687.2 248.2C688 268.5 706.5 268.5 706.8 249" fill="none" stroke="#ff1515" stroke-width="1.1"/>
<g shape-rendering="crispEdges">
<rect x="182" y="67" width="1" height="5" fill="#ffffff"/>
<rect x="180" y="69" width="7" height="1" fill="#ffffff"/>
</g>
<g shape-rendering="crispEdges">
<rect x="582" y="57" width="1" height="5" fill="#ffffff"/>
<rect x="580" y="59" width="7" height="1" fill="#ffffff"/>
</g>
<g shape-rendering="crispEdges">
<rect x="67" y="356" width="1" height="5" fill="#ffffff"/>
<rect x="65" y="358" width="7" height="1" fill="#ffffff"/>
</g>
<g shape-rendering="crispEdges">
<rect x="347" y="368" width="1" height="5" fill="#ffffff"/>
<rect x="345" y="370" width="7" height="1" fill="#ffffff"/>
</g>
<g shape-rendering="crispEdges">
<rect x="697" y="254" width="1" height="5" fill="#ffffff"/>
<rect x="690" y="256" width="9" height="1" fill="#ffffff"/>
</g>
<text x="188" y="65.8" font-size="12.2" fill="#f0304f" font-weight="bold" textLength="50.4" lengthAdjust="spacingAndGlyphs">100.2599</text>
<text x="588.9" y="55.8" font-size="12.2" fill="#f0304f" font-weight="bold" textLength="50.4" lengthAdjust="spacingAndGlyphs">100.3900</text>
<text x="72.8" y="369.8" font-size="12.2" fill="#3bca80" font-weight="bold" textLength="43.4" lengthAdjust="spacingAndGlyphs">96.3729</text>
<text x="352.6" y="381.8" font-size="12.2" fill="#3bca80" font-weight="bold" textLength="43.4" lengthAdjust="spacingAndGlyphs">96.2109</text>
<text x="644.2" y="267.6" font-size="12.2" fill="#3bca80" font-weight="bold" textLength="43.9" lengthAdjust="spacingAndGlyphs">97.7479</text>
<text x="690.2" y="185.4" font-size="12.2" fill="#ff1a1a" textLength="43.4" lengthAdjust="spacingAndGlyphs">98.6358</text>
<text x="690.2" y="305.8" font-size="12.2" fill="#7474ff" textLength="43.4" lengthAdjust="spacingAndGlyphs">97.0282</text>
<text x="737.4" y="25.4" font-size="12.3" fill="#ee2c45">100.8915</text>
<text x="737.4" y="87.4" font-size="12.3" fill="#ee2c45">100.0568</text>
<text x="737.4" y="149.4" font-size="12.3" fill="#ee2c45">99.2221</text>
<text x="737.4" y="211.4" font-size="12.3" fill="#ee2c45">98.3874</text>
<text x="737.4" y="273.4" font-size="12.3" fill="#ee2c45">97.5527</text>
<text x="737.4" y="335.4" font-size="12.3" fill="#ee2c45">96.7180</text>
<text x="737.4" y="418.6" font-size="12.3" fill="#ee2c45">0.5734</text>
<text x="737.4" y="445.6" font-size="12.3" fill="#ee2c45">0.2556</text>
<text x="737.4" y="473.6" font-size="12.3" fill="#ee2c45">-0.0623</text>
<text x="737.4" y="500.6" font-size="12.3" fill="#ee2c45">-0.3801</text>
<text x="737.4" y="550.6" font-size="12.3" fill="#ee2c45">70.1070</text>
<text x="737.4" y="580.6" font-size="12.3" fill="#ee2c45">56.2516</text>
<text x="737.4" y="610.6" font-size="12.3" fill="#ee2c45">42.3962</text>
<rect x="734.5" y="363.5" width="67" height="16" fill="#000" stroke="#333" stroke-width="1" shape-rendering="crispEdges"/>
<text x="737.3" y="375.6" font-size="12.3" fill="#f0a030">96.3129</text>
<path d="M794.3 237h7l-3.5 4zM794.3 241h7l-3.5 4z" fill="#f0a030"/>
<rect x="806" y="88" width="1" height="5" fill="#2a5a8a"/>
<rect x="806" y="113" width="1" height="6" fill="#2a5a8a"/>
<rect x="806" y="135" width="1" height="10" fill="#334a7a"/>
<rect x="806" y="160" width="1" height="11" fill="#334a7a"/>
<rect x="806" y="274" width="1" height="10" fill="#5c5c1a"/>
<rect x="806" y="638" width="1" height="3" fill="#8a8a20"/>
<rect x="806" y="646" width="1" height="3" fill="#9a9a30"/>
<rect x="806" y="151" width="1" height="4" fill="#6a6a20"/>
<rect x="806" y="188" width="1" height="3" fill="#6a6a20"/>
<g shape-rendering="crispEdges">
<rect x="7" y="465" width="1" height="14" fill="#3bca80"/>
<rect x="12" y="465" width="1" height="13" fill="#3bca80"/>
<rect x="17" y="465" width="1" height="4" fill="#3bca80"/>
<rect x="22" y="461" width="1" height="5" fill="#f0304f"/>
<rect x="27" y="457" width="1" height="9" fill="#f0304f"/>
<rect x="32" y="454" width="1" height="12" fill="#f0304f"/>
<rect x="37" y="457" width="1" height="9" fill="#f0304f"/>
<rect x="42" y="462" width="1" height="4" fill="#f0304f"/>
<rect x="47" y="465" width="1" height="5" fill="#3bca80"/>
<rect x="52" y="465" width="1" height="12" fill="#3bca80"/>
<rect x="57" y="465" width="1" height="16" fill="#3bca80"/>
<rect x="62" y="465" width="1" height="22" fill="#3bca80"/>
<rect x="67" y="465" width="1" height="25" fill="#3bca80"/>
<rect x="72" y="465" width="1" height="24" fill="#3bca80"/>
<rect x="77" y="465" width="1" height="17" fill="#3bca80"/>
<rect x="82" y="465" width="1" height="13" fill="#3bca80"/>
<rect x="87" y="465" width="1" height="2" fill="#3bca80"/>
<rect x="92" y="459" width="1" height="7" fill="#f0304f"/>
<rect x="97" y="454" width="1" height="12" fill="#f0304f"/>
<rect x="102" y="449" width="1" height="17" fill="#f0304f"/>
<rect x="107" y="444" width="1" height="22" fill="#f0304f"/>
<rect x="112" y="437" width="1" height="29" fill="#f0304f"/>
<rect x="117" y="429" width="1" height="37" fill="#f0304f"/>
<rect x="122" y="428" width="1" height="38" fill="#f0304f"/>
<rect x="127" y="425" width="1" height="41" fill="#f0304f"/>
<rect x="132" y="427" width="1" height="39" fill="#f0304f"/>
<rect x="137" y="436" width="1" height="30" fill="#f0304f"/>
<rect x="142" y="449" width="1" height="17" fill="#f0304f"/>
<rect x="147" y="459" width="1" height="7" fill="#f0304f"/>
<rect x="152" y="462" width="1" height="4" fill="#f0304f"/>
<rect x="157" y="462" width="1" height="4" fill="#f0304f"/>
<rect x="162" y="451" width="1" height="15" fill="#f0304f"/>
<rect x="167" y="441" width="1" height="25" fill="#f0304f"/>
<rect x="172" y="425" width="1" height="41" fill="#f0304f"/>
<rect x="177" y="417" width="1" height="49" fill="#f0304f"/>
<rect x="182" y="428" width="1" height="38" fill="#f0304f"/>
<rect x="187" y="437" width="1" height="29" fill="#f0304f"/>
<rect x="192" y="444" width="1" height="22" fill="#f0304f"/>
<rect x="197" y="455" width="1" height="11" fill="#f0304f"/>
<rect x="202" y="465" width="1" height="1" fill="#3bca80"/>
<rect x="207" y="465" width="1" height="5" fill="#3bca80"/>
<rect x="212" y="465" width="1" height="5" fill="#3bca80"/>
<rect x="217" y="465" width="1" height="10" fill="#3bca80"/>
<rect x="222" y="465" width="1" height="16" fill="#3bca80"/>
<rect x="227" y="465" width="1" height="15" fill="#3bca80"/>
<rect x="232" y="465" width="1" height="17" fill="#3bca80"/>
<rect x="237" y="465" width="1" height="14" fill="#3bca80"/>
<rect x="242" y="465" width="1" height="10" fill="#3bca80"/>
<rect x="247" y="465" width="1" height="8" fill="#3bca80"/>
<rect x="252" y="465" width="1" height="2" fill="#3bca80"/>
<rect x="257" y="465" width="1" height="8" fill="#3bca80"/>
<rect x="262" y="465" width="1" height="4" fill="#3bca80"/>
<rect x="267" y="465" width="1" height="3" fill="#3bca80"/>
<rect x="272" y="465" width="1" height="3" fill="#3bca80"/>
<rect x="277" y="465" width="1" height="7" fill="#3bca80"/>
<rect x="282" y="465" width="1" height="9" fill="#3bca80"/>
<rect x="287" y="465" width="1" height="11" fill="#3bca80"/>
<rect x="292" y="465" width="1" height="4" fill="#3bca80"/>
<rect x="297" y="465" width="1" height="3" fill="#3bca80"/>
<rect x="302" y="464" width="1" height="2" fill="#f0304f"/>
<rect x="307" y="465" width="1" height="4" fill="#3bca80"/>
<rect x="312" y="465" width="1" height="10" fill="#3bca80"/>
<rect x="317" y="465" width="1" height="9" fill="#3bca80"/>
<rect x="322" y="465" width="1" height="7" fill="#3bca80"/>
<rect x="327" y="465" width="1" height="9" fill="#3bca80"/>
<rect x="332" y="465" width="1" height="9" fill="#3bca80"/>
<rect x="337" y="465" width="1" height="12" fill="#3bca80"/>
<rect x="342" y="465" width="1" height="20" fill="#3bca80"/>
<rect x="347" y="465" width="1" height="19" fill="#3bca80"/>
<rect x="352" y="465" width="1" height="14" fill="#3bca80"/>
<rect x="357" y="465" width="1" height="7" fill="#3bca80"/>
<rect x="362" y="465" width="1" height="6" fill="#3bca80"/>
<rect x="367" y="465" width="1" height="5" fill="#3bca80"/>
<rect x="372" y="461" width="1" height="5" fill="#f0304f"/>
<rect x="377" y="449" width="1" height="17" fill="#f0304f"/>
<rect x="382" y="446" width="1" height="20" fill="#f0304f"/>
<rect x="387" y="447" width="1" height="19" fill="#f0304f"/>
<rect x="392" y="449" width="1" height="17" fill="#f0304f"/>
<rect x="397" y="453" width="1" height="13" fill="#f0304f"/>
<rect x="402" y="453" width="1" height="13" fill="#f0304f"/>
<rect x="407" y="457" width="1" height="9" fill="#f0304f"/>
<rect x="412" y="454" width="1" height="12" fill="#f0304f"/>
<rect x="417" y="448" width="1" height="18" fill="#f0304f"/>
<rect x="422" y="442" width="1" height="24" fill="#f0304f"/>
<rect x="427" y="434" width="1" height="32" fill="#f0304f"/>
<rect x="432" y="436" width="1" height="30" fill="#f0304f"/>
<rect x="437" y="435" width="1" height="31" fill="#f0304f"/>
<rect x="442" y="438" width="1" height="28" fill="#f0304f"/>
<rect x="447" y="446" width="1" height="20" fill="#f0304f"/>
<rect x="452" y="456" width="1" height="10" fill="#f0304f"/>
<rect x="457" y="461" width="1" height="5" fill="#f0304f"/>
<rect x="462" y="463" width="1" height="3" fill="#f0304f"/>
<rect x="467" y="462" width="1" height="4" fill="#f0304f"/>
<rect x="472" y="462" width="1" height="4" fill="#f0304f"/>
<rect x="477" y="462" width="1" height="4" fill="#f0304f"/>
<rect x="482" y="463" width="1" height="3" fill="#f0304f"/>
<rect x="487" y="465" width="1" height="1" fill="#3bca80"/>
<rect x="492" y="465" width="1" height="4" fill="#3bca80"/>
<rect x="497" y="465" width="1" height="1" fill="#3bca80"/>
<rect x="502" y="460" width="1" height="6" fill="#f0304f"/>
<rect x="507" y="455" width="1" height="11" fill="#f0304f"/>
<rect x="512" y="451" width="1" height="15" fill="#f0304f"/>
<rect x="517" y="446" width="1" height="20" fill="#f0304f"/>
<rect x="522" y="445" width="1" height="21" fill="#f0304f"/>
<rect x="527" y="451" width="1" height="15" fill="#f0304f"/>
<rect x="532" y="458" width="1" height="8" fill="#f0304f"/>
<rect x="537" y="462" width="1" height="4" fill="#f0304f"/>
<rect x="542" y="465" width="1" height="3" fill="#3bca80"/>
<rect x="547" y="465" width="1" height="7" fill="#3bca80"/>
<rect x="552" y="465" width="1" height="13" fill="#3bca80"/>
<rect x="557" y="465" width="1" height="15" fill="#3bca80"/>
<rect x="562" y="465" width="1" height="14" fill="#3bca80"/>
<rect x="567" y="465" width="1" height="12" fill="#3bca80"/>
<rect x="572" y="465" width="1" height="5" fill="#3bca80"/>
<rect x="577" y="464" width="1" height="2" fill="#f0304f"/>
<rect x="582" y="461" width="1" height="5" fill="#f0304f"/>
<rect x="587" y="460" width="1" height="6" fill="#f0304f"/>
<rect x="592" y="465" width="1" height="1" fill="#f0304f"/>
<rect x="597" y="465" width="1" height="7" fill="#3bca80"/>
<rect x="602" y="465" width="1" height="11" fill="#3bca80"/>
<rect x="607" y="465" width="1" height="14" fill="#3bca80"/>
<rect x="612" y="465" width="1" height="16" fill="#3bca80"/>
<rect x="617" y="465" width="1" height="19" fill="#3bca80"/>
<rect x="622" y="465" width="1" height="24" fill="#3bca80"/>
<rect x="627" y="465" width="1" height="25" fill="#3bca80"/>
<rect x="632" y="465" width="1" height="25" fill="#3bca80"/>
<rect x="637" y="465" width="1" height="23" fill="#3bca80"/>
<rect x="642" y="465" width="1" height="19" fill="#3bca80"/>
<rect x="647" y="465" width="1" height="22" fill="#3bca80"/>
<rect x="652" y="465" width="1" height="26" fill="#3bca80"/>
<rect x="657" y="465" width="1" height="27" fill="#3bca80"/>
<rect x="662" y="465" width="1" height="28" fill="#3bca80"/>
<rect x="667" y="465" width="1" height="27" fill="#3bca80"/>
<rect x="672" y="465" width="1" height="23" fill="#3bca80"/>
<rect x="677" y="465" width="1" height="19" fill="#3bca80"/>
<rect x="682" y="465" width="1" height="12" fill="#3bca80"/>
<rect x="687" y="465" width="1" height="11" fill="#3bca80"/>
<rect x="692" y="465" width="1" height="14" fill="#3bca80"/>
<rect x="697" y="465" width="1" height="14" fill="#3bca80"/>
<rect x="702" y="465" width="1" height="14" fill="#3bca80"/>
<rect x="707" y="465" width="1" height="13" fill="#3bca80"/>
</g>
<polyline points="7.5,504 11.6,506.5 16.6,506.8 21.6,506.3 26.6,505.2 30,504.1 36.6,501.9 46.6,502.1 53.3,504.9 59.9,508.2 66.5,511.6 73.2,514.9 79.8,517.9 84.8,518.5 91.5,517.4 98.1,514.6 104.8,512.4 111.4,508.6 116.4,504.9 123,498.3 129.7,491.6 135,486.9 140,484.4 145,482.8 151.6,482.3 157.4,481.1 163.2,478.6 168.2,475.3 173.2,470.3 178.2,464.5 183.2,459.8 188.1,457 193.1,454.5 197.3,453.2 203.1,453.2 208.1,453.3 213.1,454.5 218,455.3 223,457.3 228,459.2 233,461.2 238,462.3 243,463.6 247.9,464.5 252.9,464.8 257.9,465.3 266.6,466.1 273.3,466.5 279.9,468.1 286.6,469.5 293.2,470 299.9,470.3 306.5,470.8 313.2,472.3 319.8,473.6 326.4,474.4 333.1,475.8 339.7,477.8 346.4,480.8 353,483.1 359.7,483.6 366.3,484.4 369.6,484.4 376.3,481.9 382.9,479.1 389.6,476.1 396.6,473.6 403.3,472.3 409.9,470.3 416.6,467 423.2,463.6 429.9,459.5 436.5,454.5 443.2,450.4 449.8,446.5 456.4,445.9 463.1,445.4 473.1,445.4 479.7,444.2 489.7,444.2 496.3,445.4 503,444.5 507.9,442.9 512.9,440.4 517.9,437.9 525,435.4 530,433.4 536.6,432.9 543.3,433.7 549.9,434.6 556.5,437.1 564.9,440.1 571.5,440.4 578.1,440.1 584.8,439.9 591.4,439.1 598.1,440.4 604.7,442.1 611.4,443.7 618,447 624.7,451.2 631.3,455.3 637.9,458.7 645,462.8 652.5,466.1 657.4,470.3 662.4,474 667.4,476.4 672.4,478.6 677.4,481.4 682.4,482.8 687.3,484.1 692.3,485.2 697.3,486.9 702.3,487.7 707.3,490.2" fill="none" stroke="#e4e01e" stroke-width="1" stroke-linejoin="round" shape-rendering="crispEdges"/>
<polyline points="7.5,511.3 11.6,512.7 16.6,509.7 21.6,504.3 27.4,501 30,499.1 35,497.9 40,499.6 45.8,503.3 51.6,508.2 57.4,514 62.4,519.9 67.4,523.5 73.2,524.5 79.8,524.5 83.2,523.2 88.1,518.2 93.1,514 98.1,509.9 103.1,504.9 108.1,499.1 113.1,491.6 116.4,485 120.5,481.3 122.9,481.1 127.9,473.6 130,471.1 133.3,469.5 136.6,470.3 141.6,474.4 146.6,478.9 152.4,480.6 157.4,479.4 162.4,472.8 167.4,464.5 172.4,451.2 177.3,440.4 179.8,441.2 183.2,442.9 192.3,443.4 197.3,447.9 202.3,452.5 207.2,455.8 212.2,456.5 217.2,460.3 222.2,464.5 227.2,465.8 232.2,469.5 238,469.5 243,468.1 247.9,467.8 252.9,465.3 257.9,467.8 262.9,466.6 272.5,467 277.4,470.3 282.4,472.8 287.4,474 292.4,472 297.4,470.8 302.4,469.5 307.3,471.1 312.3,475.3 317.3,476.4 322.3,476.4 327.3,478.6 332.3,479.4 337.2,481.4 342.2,486.9 347.2,490.2 352.2,488.9 357.2,486.4 362.2,486.1 368,485.7 373,481.1 377.9,473.6 382.9,469.5 387.9,468.1 392.5,467.3 398.3,467.3 402.5,466.5 408.3,466.1 412.4,464.5 417.4,458.7 422.4,452 427.4,445.4 432.4,442.9 437.3,438.7 442.3,436.2 447.3,438.2 452.3,442.1 457.3,443.4 462.3,444.9 467.2,443.4 473.1,443.4 484.7,443.7 489.7,445.9 493.8,446.5 498,444.9 503,440.4 507.9,436.6 512.9,434.2 517.9,428.8 523.3,426.3 527.5,427.4 532.5,429.6 537.4,432.1 542.4,434.6 547.4,437.9 552.4,442.1 557.4,444.5 562.4,445.7 567.3,445.4 572.3,442.1 577.3,439.1 582.3,438.2 587.3,437.4 592.3,439.1 597.2,443.7 602.2,447 607.2,449.5 612.2,452.5 617.2,455.7 622.2,461.2 627.1,465.3 632.1,468.1 637.1,469.5 642.5,469.8 647.5,474.4 652.5,479.8 657.4,483.6 662.4,486.1 667.4,488.9 670.7,490.2 678.2,490.2 683.2,488.2 688.2,489.7 692.3,491.9 697.3,494.4 702.3,495.2 707.3,496.9" fill="none" stroke="#f2f2f2" stroke-width="1" stroke-linejoin="round" shape-rendering="crispEdges"/>
<polyline points="7.5,617.5 12.5,616.4 17.5,600.4 22.5,600.4 27.5,601.4 32.5,601.4 37.5,609.2 42.5,617.5 47.5,622.9 52.5,628.8 57.5,629.2 62.5,637 67.5,637.5 72.5,635 77.5,622.5 82.5,624.2 87.5,606.8 92.5,607.6 97.5,607.1 102.5,604.6 107.5,596.8 112.5,588.5 117.5,573.5 122.5,585.5 127.5,575.5 132.5,581.8 137.5,598.4 142.5,610.1 147.5,613.4 152.5,604.3 157.5,598.4 162.5,575.5 167.5,569.9 172.5,553.6 177.5,552.4 182.5,585.5 187.5,584.3 192.5,584.3 197.5,595.6 202.5,598.4 207.5,594.8 212.5,589.3 217.5,597.9 222.5,604.3 227.5,594.3 232.5,602.6 237.5,594.3 242.5,591.5 247.5,592.6 252.5,582.3 257.5,603.4 262.5,588.5 267.5,592.1 272.5,593.5 277.5,600.1 282.5,600.1 287.5,604.3 292.5,588.5 297.5,592.1 302.5,588.5 307.5,601.8 312.5,608.4 317.5,599.3 322.5,597.3 327.5,605.1 332.5,602.6 337.5,609.2 342.5,623.4 347.5,611.7 352.5,601.8 357.5,594.3 362.5,601.8 367.5,604.3 372.5,588.5 377.5,575.5 382.5,581.8 387.5,588.5 392.5,591 397.5,593.8 402.5,589.6 407.5,594.3 412.5,581.8 417.5,572.7 422.5,566.1 427.5,556.4 432.5,573.5 437.5,565.6 442.5,571.5 447.5,581.8 452.5,589.3 457.5,585.5 462.5,583.2 467.5,575.5 472.5,578.5 477.5,576.5 482.5,576.5 487.5,580.2 492.5,584.3 497.5,571.5 502.5,562.4 507.5,558.6 512.5,554.4 517.5,548.3 522.5,551.1 527.5,568.5 532.5,575.5 537.5,573.5 542.5,578.2 547.5,579.8 552.5,591 557.5,587.6 562.5,578.5 567.5,576 572.5,560.6 577.5,558.2 582.5,559.4 587.5,559.4 592.5,579.3 597.5,589.3 602.5,589.8 607.5,592.6 612.5,596.8 617.5,599.3 622.5,617.2 627.5,607.6 632.5,610.1 637.5,603.4 642.5,597.6 647.5,618.4 652.5,627.5 657.5,625.4 662.5,627.5 667.5,630.3 672.5,619.2 677.5,616.4 682.5,602.1 687.5,618.4 692.5,628.3 697.5,625.4 702.5,626.4 707.5,627.5" fill="none" stroke="#ea34ea" stroke-width="1" stroke-linejoin="round" shape-rendering="crispEdges"/>
<text x="7" y="407.4" font-size="12" fill="#f4f4f4" textLength="84.3" lengthAdjust="spacingAndGlyphs">MACD(26,12,9)</text>
<text x="96.8" y="407.4" font-size="12" fill="#f4f4f4" textLength="69.6" lengthAdjust="spacingAndGlyphs">DIFF:-0.3539</text>
<text x="175.8" y="407.4" font-size="12" fill="#e0e020" textLength="69" lengthAdjust="spacingAndGlyphs">DEA:-0.2870</text>
<text x="253.9" y="407.4" font-size="12" fill="#e428e4" textLength="80.2" lengthAdjust="spacingAndGlyphs">MACD:-0.1340</text>
<text x="7.2" y="539.7" font-size="12" fill="#f4f4f4" textLength="73.5" lengthAdjust="spacingAndGlyphs">RSI(14,14,14)</text>
<text x="85.7" y="539.7" font-size="12" fill="#f4f4f4" textLength="72.2" lengthAdjust="spacingAndGlyphs">RSI1:33.5909</text>
<text x="168.2" y="539.7" font-size="12" fill="#e0e020" textLength="72.5" lengthAdjust="spacingAndGlyphs">RSI2:33.5909</text>
<text x="250" y="539.7" font-size="12" fill="#e428e4" textLength="72.6" lengthAdjust="spacingAndGlyphs">RSI3:33.5909</text>
<text x="69.3" y="650.8" font-size="12.4" fill="#c8c8c8" font-weight="bold" textLength="44.4" lengthAdjust="spacingAndGlyphs">2025/07</text>
<text x="184.3" y="650.8" font-size="12.4" fill="#c8c8c8" font-weight="bold" textLength="44.4" lengthAdjust="spacingAndGlyphs">2025/08</text>
<text x="289.3" y="650.8" font-size="12.4" fill="#c8c8c8" font-weight="bold" textLength="44.4" lengthAdjust="spacingAndGlyphs">2025/09</text>
<text x="399.3" y="650.8" font-size="12.4" fill="#c8c8c8" font-weight="bold" textLength="44.4" lengthAdjust="spacingAndGlyphs">2025/10</text>
<text x="514.3" y="650.8" font-size="12.4" fill="#c8c8c8" font-weight="bold" textLength="31.7" lengthAdjust="spacingAndGlyphs">2025/</text>
<rect x="546.5" y="638.5" width="110" height="17" fill="#000" stroke="#3a3a3a" stroke-width="1" shape-rendering="crispEdges"/>
<text x="548.8" y="651.2" font-size="12.6" fill="#f0a030" textLength="64" lengthAdjust="spacingAndGlyphs">2025/12/11</text>
<text x="618.3" y="651.3" font-size="12" fill="#f0a030" font-family="'Liberation Sans', 'Noto Sans CJK SC', sans-serif" textLength="36" lengthAdjust="spacingAndGlyphs">星期四</text>
<rect x="657.5" y="643" width="1" height="2" fill="#999"/>
<rect x="657.5" y="649" width="1" height="2" fill="#999"/>
<text transform="translate(678.1 629.7) scale(0.91 1)" x="0" y="0" font-size="30.6" fill="#000" fill-opacity="0.55" stroke="#000" stroke-opacity="0.45" stroke-width="2.5" textLength="106.5" lengthAdjust="spacing">FX678</text>
<text transform="translate(678.1 629.7) scale(0.91 1)" x="0" y="0" font-size="30.6" fill="#eceef4" textLength="106.5" lengthAdjust="spacing">FX678</text>
<text x="6" y="14.2" font-size="12" fill="#f6f6f6" font-family="'Liberation Sans', 'Noto Sans CJK SC', sans-serif" textLength="48" lengthAdjust="spacingAndGlyphs">美元指数</text>
<text x="66" y="14.2" font-size="11.8" fill="#f0a030" font-family="'Liberation Sans', 'Noto Sans CJK SC', sans-serif" textLength="23.6" lengthAdjust="spacingAndGlyphs">日线</text>
<path d="M65.1 3.4H59.8V15.9H65.1C61.2 12.9 61.2 6.4 65.1 3.4Z" fill="#f0a030"/>
<path d="M92.3 3.4H97.4V15.9H92.3C96.2 12.9 96.2 6.4 92.3 3.4Z" fill="#f0a030"/>
<g stroke="#f0a030" stroke-width="1" fill="none"><circle cx="106.8" cy="10.8" r="4.2"/><path d="M102.6 10.8h8.4M106.8 6.6v8.4"/></g>
<rect x="671.5" y="1.5" width="13" height="13" fill="#070707" stroke="#a4a4a4" stroke-width="1" shape-rendering="crispEdges"/>
<rect x="687.5" y="1.5" width="13" height="13" fill="#070707" stroke="#a4a4a4" stroke-width="1" shape-rendering="crispEdges"/>
<rect x="703.5" y="1.5" width="13" height="13" fill="#070707" stroke="#a4a4a4" stroke-width="1" shape-rendering="crispEdges"/>
<rect x="719.5" y="1.5" width="13" height="13" fill="#070707" stroke="#a4a4a4" stroke-width="1" shape-rendering="crispEdges"/>
<rect x="677" y="3" width="2" height="3" fill="#989898"/>
<rect x="677" y="7" width="2" height="2" fill="#989898"/>
<rect x="677" y="10" width="2" height="3" fill="#989898"/>
<rect x="673" y="7" width="3" height="2" fill="#989898"/>
<rect x="680" y="7" width="3" height="2" fill="#989898"/>
<g fill="#a4a4a4">
<rect x="690" y="3.6" width="1" height="9.3" fill="#a4a4a4"/>
<rect x="689.2" y="11" width="9.4" height="1" fill="#a4a4a4"/>
<path d="M690.5 2.8l1.6 2.3h-3.2zM699.2 11.5l-2.3 1.4v-2.8zM688.6 11.5l2.0 -1.3v2.6z"/>
<rect x="706" y="3.6" width="1" height="9.3" fill="#a4a4a4"/>
<rect x="705.2" y="11" width="9.4" height="1" fill="#a4a4a4"/>
<path d="M706.5 2.8l1.6 2.3h-3.2zM715.2 11.5l-2.3 1.4v-2.8zM704.6 11.5l2.0 -1.3v2.6z"/>
<rect x="693" y="4" width="1" height="6" fill="#a4a4a4"/>
<path d="M697 4v5.6l-2.8-2.8z" fill="#8c8c8c"/>
<path d="M709.2 4v6.7l4.9-3.35z" fill="#828282"/>
<rect x="709" y="4" width="0.8" height="6.7" fill="#a4a4a4"/>
<rect x="721.5" y="3.5" width="3" height="9" fill="none" stroke="#a4a4a4" stroke-width="1"/>
<rect x="723.5" y="7" width="4.5" height="1.2" fill="#a4a4a4"/>
<path d="M726.8 4.9l3.2 2.7-3.2 2.6z"/>
</g>
</svg>
</body></html>
